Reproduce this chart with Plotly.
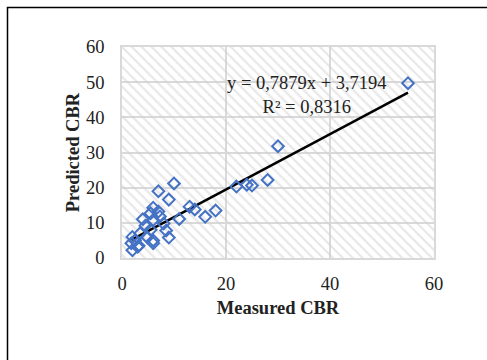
import plotly.graph_objects as go

# ---- data ----
measured_cbr = [55, 30, 28, 25, 24, 22, 18, 16, 14, 13, 11, 10, 9, 9, 8.5, 8, 7, 7, 7.3,
                6, 6, 6, 5.5, 5.5, 6, 4, 4.5, 4.8, 3.5, 3, 2, 2, 1.8, 2.5, 3.2]
predicted_cbr = [49.7, 31.8, 22.2, 20.6, 20.8, 20.3, 13.5, 11.7, 13.8, 14.6, 11.1, 21.2, 16.6,
                 5.8, 7.8, 9.8, 19.0, 13.2, 11.8, 14.3, 10.8, 5.0, 12.7, 8.0, 4.2, 11.0, 9.2,
                 6.0, 7.0, 3.2, 6.0, 2.2, 4.2, 5.0, 3.5]
slope = 0.7879
intercept = 3.7194
r_squared = 0.8316
x_ticks = [0, 20, 40, 60]
y_ticks = [0, 10, 20, 30, 40, 50, 60]
axis_range = [0, 60]

FONT = "Liberation Serif"
W, H = 487, 360
L, R, T, B = 122, 53, 47, 102

fig = go.Figure()

# hatched plot-area background
fig.add_trace(go.Scatter(
    x=[axis_range[0], axis_range[1], axis_range[1], axis_range[0], axis_range[0]],
    y=[axis_range[0], axis_range[0], axis_range[1], axis_range[1], axis_range[0]],
    mode="lines", fill="toself", line=dict(width=0),
    fillcolor="rgba(0,0,0,0)",
    fillpattern=dict(shape="\\", fgcolor="#d0d0d0", bgcolor="rgba(0,0,0,0)",
                     size=7, solidity=0.32),
    hoverinfo="skip", showlegend=False,
))

# trendline
x0, x1 = min(measured_cbr), max(measured_cbr)
fig.add_trace(go.Scatter(
    x=[x0, x1], y=[slope * x0 + intercept, slope * x1 + intercept],
    mode="lines", line=dict(color="black", width=2.5), showlegend=False,
))

# data points
fig.add_trace(go.Scatter(
    x=measured_cbr, y=predicted_cbr, mode="markers",
    marker=dict(symbol="diamond-open", size=9, color="#4472C4",
                line=dict(width=2, color="#4472C4")),
    showlegend=False,
))

fmt = lambda v: f"{v:.4f}".replace(".", ",")
fig.add_annotation(
    x=35.5, y=46.3, xref="x", yref="y",
    text=f"y = {fmt(slope)}x + {fmt(intercept)}<br>R² = {fmt(r_squared)}",
    showarrow=False, align="center", xanchor="center", yanchor="middle",
    font=dict(family=FONT, size=18.5, color="#222222"),
)

# outer chart border
pw, ph = W - L - R, H - T - B
def px_to_paper_x(px): return (px - L) / pw
def px_to_paper_y(py): return (H - B - py) / ph
fig.add_shape(type="rect", xref="paper", yref="paper",
              x0=px_to_paper_x(7.5), x1=px_to_paper_x(W + 10),
              y0=px_to_paper_y(H + 10), y1=px_to_paper_y(7.5),
              line=dict(color="black", width=1.5), fillcolor="rgba(0,0,0,0)", layer="below")

axis_common = dict(
    range=axis_range, showgrid=True, gridcolor="#d9d9d9", gridwidth=1.5,
    zeroline=False, showline=True, linecolor="#d9d9d9", linewidth=1.5, mirror=True,
    tickfont=dict(family=FONT, size=18.5, color="#222222"),
    ticks="", fixedrange=True,
)
fig.update_layout(
    width=W, height=H,
    margin=dict(l=L, r=R, t=T, b=B, autoexpand=False),
    paper_bgcolor="white", plot_bgcolor="white",
    xaxis=dict(**axis_common, tickvals=x_ticks, ticklabelstandoff=8,
               title=dict(text="<b>Measured CBR</b>", standoff=8,
                          font=dict(family=FONT, size=18.5, color="#222222"))),
    yaxis=dict(**axis_common, tickvals=y_ticks, ticklabelstandoff=12,
               title=dict(text="<b>Predicted CBR</b>", standoff=2,
                          font=dict(family=FONT, size=18.5, color="#222222"))),
)

fig.write_html("out.html")
